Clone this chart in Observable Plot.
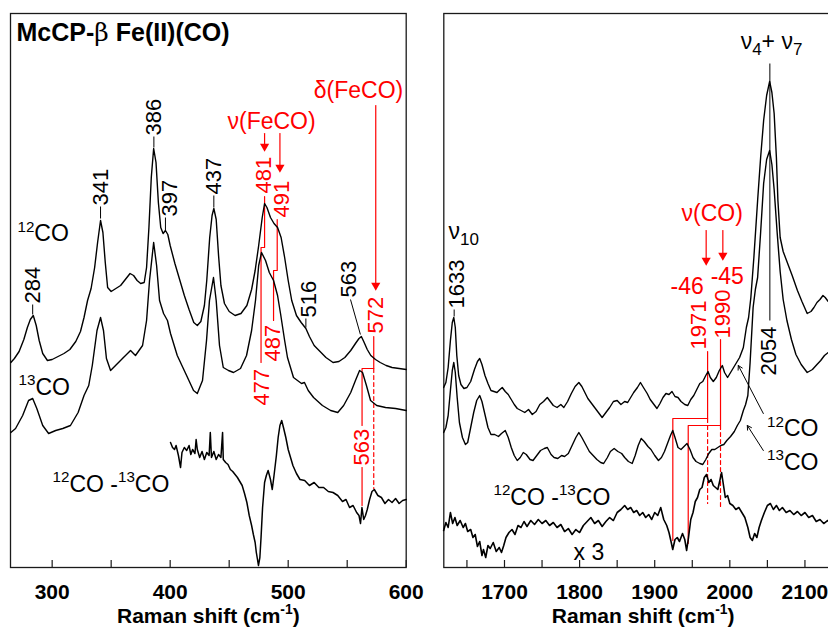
<!DOCTYPE html>
<html><head><meta charset="utf-8">
<script src="https://cdn.jsdelivr.net/npm/d3@7"></script>
<script src="https://cdn.jsdelivr.net/npm/@observablehq/plot@0.6"></script>
<style>
html,body{margin:0;padding:0;background:#fff;overflow:hidden}
#fig{position:relative;width:828px;height:633px;overflow:hidden;background:#fff}
</style></head><body><div id="fig"></div>
<script>
// ---------------- DATA (Raman shift cm-1, relative intensity) ----------------
const lowTickLabels = [300, 400, 500, 600];
const lowTicks = [300, 350, 400, 450, 500, 550, 600];
const highTickLabels = [1700, 1800, 1900, 2000, 2100];
const highTicks = [1650, 1700, 1750, 1800, 1850, 1900, 1950, 2000, 2050, 2100, 2150];

const low12CO = [[265,205],[268,209],[272,216],[276,228],[279,240],[281.5,248],[284,252],[286.5,242],[289,227],[292,214],[296,207],[300,208],[305,211],[310,214],[315,218],[320,226],[324,236],[327,250],[330,267],[333,279],[336,300],[338.5,325],[341,347],[343,335],[345,305],[347,280],[350,276],[354,279],[358,282],[362,288],[366,294],[369,292],[372,287],[375,284],[378,285],[380,300],[382,340],[384,390],[386,419],[388,405],[390,365],[392,340],[394,334],[396,337],[398,333],[400,322],[404,304],[408,288],[412,272],[416,258],[420,245],[423,242],[426,246],[429,262],[431,287],[433.5,330],[435.5,352],[437,359],[439,348],[441,312],[443,282],[446,264],[450,256],[455,252],[460,254],[465,262],[469,278],[472,297],[475,322],[478,350],[480,364],[482,360],[485,350],[488,344],[491,340],[494,330],[497,310],[500,287],[503,267],[507,252],[511,245],[515,239],[518,231],[522,222],[527,216],[532,210],[538,205],[543,206],[548,210],[553,217],[557,224],[560,229],[562,231],[564,226],[567,218],[570,212],[574,208],[578,205],[583,202],[588,200],[594,199],[600,198]];

const low13CO = [[265,135],[269,139],[275,152],[280,167],[283.5,169],[287,159],[292,142],[297,134],[303,137],[309,139],[315.5,142],[322,155],[327,172],[331,182],[334,202],[338,237],[341,250],[343.5,237],[346,209],[349.5,197],[353.7,202],[359.6,209],[366.4,217],[370.6,212],[376.6,222],[380,247],[382.5,287],[386,325],[388.5,302],[391,267],[394.4,254],[397.7,247],[400.3,234],[406,212],[414.7,190],[419.8,177],[423,174],[427.4,187],[430.8,227],[433.3,267],[436.7,290],[439,267],[441.8,222],[445,200],[449.4,197],[453.7,195],[459.6,199],[464.7,212],[469,237],[472.3,267],[475,302],[477.4,315],[480.8,307],[484,295],[487.6,287],[491,272],[493.5,254],[497,227],[499.4,210],[504.5,190],[511.3,184],[513.8,185],[517,177],[521.5,170],[529,162],[536,157],[542,155],[547,162],[553,175],[557,187],[560.5,197],[563,195],[566.3,182],[569.8,167],[575,162],[582.5,160],[591,159],[600,157]];

const lowDiff = [[400.3,125],[402,120],[403.7,118],[405,122],[407,112],[408.8,100],[410,115],[412,120],[414,117],[416,122],[417.5,113],[419,118],[421,114],[422,128],[423,118],[425,110],[427,116],[429,108],[431,115],[433,112],[434,135],[435,110],[437,116],[439,108],[441,113],[443,110],[444.4,135],[445,108],[447,105],[449,103],[451,98],[453,96],[455,93],[457,90],[459,86],[461,82],[463,74],[465,65],[467,52],[469,42],[470.5,33],[472,25],[473,15],[474,8],[474.8,2],[476,10],[477,30],[478.3,60],[480,85],[481.5,92],[483,97],[485,88],[486.5,78],[488,92],[490,112],[491.5,130],[493,142],[494.5,147],[496,140],[498,130],[500,118],[502,110],[504,102],[507,94],[510,88],[514,87],[518,82],[522,85],[526,80],[530,80],[534,76],[538,75],[542,72],[546,66],[549,68],[552,60],[555,62],[558,55],[560,52],[561.3,44],[562.5,60],[564,48],[565.5,52],[567,58],[569,68],[571,76],[573,78],[576,72],[579,70],[582,64],[585,68],[588,65],[591,69],[594,64],[597,67],[600,68]];

const high12CO = [[1619,180],[1622,185],[1625,200],[1628,227],[1630.5,245],[1632.5,250],[1634.5,240],[1636.5,212],[1639,192],[1642,183],[1646,179],[1650,180],[1655,186],[1660,198],[1664,206],[1667,209],[1670,203],[1674,192],[1678,184],[1682,177],[1686,176],[1690,175],[1694,178],[1697,180],[1701,176],[1705,173],[1709,168],[1713,163],[1717,159],[1722,157],[1727,155],[1732,158],[1737,153],[1742,156],[1747,163],[1752,166],[1757,170],[1761,166],[1765,162],[1770,160],[1775,163],[1779,160],[1784,166],[1789,174],[1794,181],[1799,185],[1803,181],[1807,175],[1811,169],[1815,165],[1820,160],[1825,155],[1830,150],[1835,155],[1840,160],[1845,166],[1850,167],[1855,163],[1860,166],[1864,165],[1868,170],[1872,175],[1877,180],[1881,185],[1885,180],[1890,174],[1894,168],[1898,164],[1903,159],[1907,164],[1911,170],[1915,174],[1919,173],[1923,176],[1927,171],[1931,170],[1935,166],[1940,163],[1944,162],[1948,168],[1952,172],[1956,178],[1960,184],[1964,186],[1968,192],[1971,196],[1974,190],[1978,186],[1982,190],[1986,197],[1990,202],[1993,195],[1997,190],[2001,195],[2005,200],[2009,205],[2013,210],[2018,220],[2022,240],[2025,250],[2028,270],[2032,310],[2037,367],[2041,410],[2045,447],[2049,472],[2053,486],[2056,475],[2059,454],[2062,410],[2064,367],[2067,330],[2071,316],[2077,304],[2083,292],[2090,277],[2096,266],[2103,254],[2108,256],[2112,260],[2116,265],[2120,268],[2124,272],[2127,270],[2131,266],[2136,263],[2142,262],[2148,260]];

const high13CO = [[1619,135],[1622,140],[1625,152],[1628,177],[1630.5,197],[1632.5,205],[1634.5,195],[1637,170],[1640,145],[1644,130],[1648,123],[1651,125],[1655,140],[1659,155],[1663,167],[1667,172],[1670,166],[1674,153],[1678,140],[1682,133],[1687,133],[1692,131],[1696,134],[1701,137],[1705,130],[1709,120],[1713,112],[1717,107],[1721,110],[1725,115],[1729,113],[1734,108],[1738,107],[1743,112],[1748,117],[1753,119],[1757,120],[1762,113],[1766,110],[1771,109],[1776,112],[1780,111],[1785,114],[1790,122],[1795,130],[1799,135],[1803,130],[1808,123],[1813,116],[1818,112],[1823,108],[1828,105],[1832,104],[1837,110],[1841,116],[1846,119],[1851,116],[1856,114],[1860,110],[1865,106],[1870,104],[1874,112],[1878,122],[1882,129],[1886,126],[1891,121],[1895,118],[1900,112],[1905,107],[1909,110],[1913,116],[1917,124],[1921,132],[1924,137],[1927,130],[1931,120],[1935,118],[1939,121],[1943,124],[1947,118],[1951,110],[1955,106],[1960,104],[1964,103],[1968,108],[1972,114],[1976,118],[1980,118],[1984,120],[1988,122],[1992,123],[1996,127],[2001,131],[2006,136],[2010,142],[2014,147],[2018,157],[2021,163],[2024,172],[2027,205],[2031,260],[2034,278],[2037,290],[2041,335],[2045,384],[2049,408],[2053,417],[2056,403],[2059,378],[2063,335],[2067,296],[2071,268],[2076,247],[2082,228],[2088,213],[2095,203],[2103,195],[2110,198],[2116,203],[2121,207],[2126,212],[2131,215],[2138,217],[2148,218]];

const highDiff = [[1619,37],[1622,45],[1625,40],[1628,55],[1631,44],[1634,50],[1637,42],[1641,47],[1645,40],[1648,44],[1651,36],[1655,38],[1658,30],[1661,33],[1664,21],[1667,26],[1670,12],[1672,18],[1675,10],[1678,22],[1681,19],[1685,25],[1689,16],[1693,20],[1696,15],[1699,22],[1702,30],[1706,35],[1710,38],[1714,33],[1718,42],[1722,40],[1726,46],[1730,41],[1735,47],[1740,43],[1745,48],[1750,44],[1755,47],[1760,42],[1765,45],[1770,40],[1775,43],[1780,36],[1785,39],[1790,33],[1795,38],[1800,35],[1805,42],[1810,46],[1815,50],[1820,44],[1825,47],[1830,41],[1835,46],[1840,50],[1845,47],[1850,55],[1855,58],[1860,62],[1864,58],[1868,60],[1872,55],[1876,57],[1880,52],[1884,55],[1888,50],[1892,53],[1896,48],[1900,55],[1904,52],[1908,60],[1912,48],[1916,42],[1919,35],[1922,25],[1924,18],[1927,28],[1930,30],[1933,26],[1937,34],[1940,28],[1942.5,17],[1945,30],[1948,48],[1951,55],[1954,66],[1957,70],[1960,78],[1963,80],[1966,90],[1969,93],[1972,85],[1975,88],[1978,82],[1981,80],[1984,78],[1987,88],[1989,95],[1991,85],[1994,70],[1997,72],[2000,64],[2004,62],[2008,58],[2012,60],[2016,55],[2020,50],[2024,40],[2027,30],[2030,27],[2033,34],[2036,30],[2039,40],[2042,47],[2046,55],[2050,62],[2054,64],[2058,58],[2062,62],[2066,57],[2070,60],[2075,55],[2080,57],[2085,53],[2090,56],[2095,52],[2100,55],[2105,50],[2110,52],[2115,46],[2120,48],[2125,44],[2130,47],[2135,45],[2140,48],[2145,46]];

// ---------------- RENDERING ----------------
const FONT = "'Liberation Sans', Arial, Helvetica, sans-serif";
const RED = "#ff0000";
const FRAME = "#1a1a1a";
const X = d => d[0], Y = d => d[1];

function trace(data, w) { return Plot.line(data, {x: X, y: Y, stroke: "black", strokeWidth: w || 1.4}); }
function poly(pts, color, dash) {
  return Plot.line(pts, {x: X, y: Y, stroke: color, strokeWidth: 1.2, strokeDasharray: dash || null});
}
function vlabels(list, color) {
  return Plot.text(list, {x: "x", y: "y", text: "t", rotate: -90, textAnchor: "start", fontSize: 22, fill: color});
}
function labels(list, opts) {
  return Plot.text(list, Object.assign({x: "x", y: "y", text: "t", fill: "black", fontSize: 23}, opts));
}
function tips(list) {
  return Plot.dot(list, {x: X, y: Y, symbol: "triangle", r: 3.4, rotate: 180, fill: RED, stroke: "none"});
}
function axisMarks(ticks, tickLabels, mid) {
  return [
    Plot.ruleX(ticks, {x: d => d, y1: 0, y2: 7, stroke: FRAME, strokeWidth: 1.2}),
    Plot.text(tickLabels, {x: d => d, y: -24.5, text: d => String(d), fontSize: 21, fontWeight: "bold", fill: "black"}),
    Plot.text(["Raman shift (cm^{-1})"], {x: mid, y: -49, text: d => d, fontSize: 21, fontWeight: "bold", fill: "black"})
  ];
}

const left = Plot.plot({
  width: 440, height: 633,
  marginLeft: 10, marginRight: 34.3, marginTop: 13, marginBottom: 66,
  x: {domain: [264.7, 600], axis: null},
  y: {domain: [0, 554], axis: null},
  style: `position:absolute;left:0;top:0;max-width:none;overflow:visible;background:none;font-family:${FONT}`,
  marks: [
    Plot.frame({stroke: FRAME, strokeWidth: 1.3}),
    ...axisMarks(lowTicks, lowTickLabels, 432.35),
    poly([[480,371],[480,320],[477,320],[477,205]], RED),
    poly([[490.7,348],[490.7,297],[487.6,297],[487.6,247]], RED),
    poly([[572.5,231],[572.5,199],[562.6,199],[562.6,142]], RED),
    poly([[562.6,100],[562.6,62]], RED),
    poly([[572.5,199],[572.5,79]], RED, "4,3"),
    poly([[480,434],[480,423]], RED),
    poly([[493,434],[493,402]], RED),
    poly([[574.2,462],[574.2,284]], RED),
    tips([[480,421],[493,400],[574.2,282]]),
    trace(low12CO), trace(low13CO), trace(lowDiff, 1.5),
    Plot.link([
      {x1:283.5,y1:253,x2:283.5,y2:263},{x1:341,y1:349,x2:341,y2:361},{x1:386.2,y1:420,x2:386.2,y2:431},
      {x1:396,y1:337,x2:396,y2:350},{x1:437,y1:360,x2:437,y2:372},{x1:515,y1:240,x2:515,y2:249},
      {x1:552.8,y1:268,x2:561.2,y2:233}
    ], {x1:"x1", y1:"y1", x2:"x2", y2:"y2", stroke: "black", strokeWidth: 1}),
    vlabels([{t:"284",x:283.4,y:264},{t:"341",x:341,y:362},{t:"386",x:386.4,y:432},{t:"397",x:399.4,y:351},
             {t:"437",x:436.7,y:373},{t:"516",x:517.5,y:250},{t:"563",x:551.5,y:270}], "black"),
    vlabels([{t:"481",x:479.1,y:374},{t:"491",x:494.4,y:350},{t:"477",x:477.4,y:162},{t:"487",x:487.2,y:206},
             {t:"572",x:574.2,y:234},{t:"563",x:562.7,y:102}], RED),
    labels([{t:"ν(FeCO)",x:485.9,y:446},{t:"δ(FeCO)",x:559.6,y:477}], {fill: RED, textAnchor: "middle"}),
    labels([{t:"^{12}CO",x:270.6,y:333.5},{t:"^{13}CO",x:271.5,y:180},{t:"^{12}CO -^{13}CO",x:300.3,y:83}], {textAnchor: "start"}),
    labels([{t:"McCP-β Fe(II)(CO)",x:269.8,y:535}], {textAnchor: "start", fontSize: 25, fontWeight: "bold"})
  ]
});

const right = Plot.plot({
  width: 450, height: 633,
  marginLeft: 33.3, marginRight: 18, marginTop: 13, marginBottom: 66,
  x: {domain: [1619.2, 2150], axis: null},
  y: {domain: [0, 554], axis: null},
  style: `position:absolute;left:410px;top:0;max-width:none;overflow:visible;background:none;font-family:${FONT}`,
  marks: [
    Plot.frame({stroke: FRAME, strokeWidth: 1.3}),
    ...axisMarks(highTicks, highTickLabels, 1884.6),
    poly([[1970.4,216],[1970.4,149],[1924.1,149],[1924.1,27]], RED),
    poly([[1987.6,228],[1987.6,142],[1944.6,142],[1944.6,24]], RED),
    poly([[1970.4,149],[1970.4,64]], RED, "4,3"),
    poly([[1987.6,142],[1987.6,59]], RED, "4,3"),
    poly([[1968.5,337],[1968.5,309]], RED),
    poly([[1990.7,337],[1990.7,314]], RED),
    tips([[1968.5,307],[1990.7,312]]),
    trace(high12CO), trace(high13CO), trace(highDiff, 1.6),
    Plot.link([{x1:1633,y1:251,x2:1633,y2:258},{x1:2053.3,y1:247,x2:2053.3,y2:504}],
      {x1:"x1", y1:"y1", x2:"x2", y2:"y2", stroke: "black", strokeWidth: 1}),
    Plot.arrow([{x1:2044.6,y1:154,x2:2011.3,y2:202},{x1:2044.6,y1:117,x2:2023.3,y2:142}],
      {x1:"x1", y1:"y1", x2:"x2", y2:"y2", stroke: "black", strokeWidth: 1, headLength: 7}),
    vlabels([{t:"1633",x:1637,y:259},{t:"2054",x:2052.6,y:192}], "black"),
    vlabels([{t:"1971",x:1958.6,y:218},{t:"1990",x:1990.5,y:229}], RED),
    labels([{t:"ν(CO)",x:1976.6,y:354},{t:"-46",x:1943.3,y:281},{t:"-45",x:1996.6,y:291}], {fill: RED, textAnchor: "middle"}),
    labels([{t:"ν_{10}",x:1625.4,y:336},{t:"ν_{4}+ ν_{7}",x:2014.4,y:526},{t:"^{12}CO",x:2049.6,y:138.5},
            {t:"^{13}CO",x:2049.6,y:105},{t:"^{12}CO -^{13}CO",x:1685.3,y:70},{t:"x 3",x:1792,y:15}], {textAnchor: "start"})
  ]
});

const fig = document.getElementById("fig");
fig.appendChild(left);
fig.appendChild(right);

function richText(svg) {
  const NS = "http://www.w3.org/2000/svg";
  svg.querySelectorAll("text").forEach(el => {
    const s = el.textContent;
    if (s.indexOf("β") >= 0) {
      el.textContent = "";
      s.split(/(β)/).forEach(part => {
        if (!part) return;
        const ts = document.createElementNS(NS, "tspan");
        if (part === "β") { ts.setAttribute("font-weight", "normal"); ts.setAttribute("font-family", "'DejaVu Serif', 'Liberation Serif', serif"); }
        ts.textContent = part;
        el.appendChild(ts);
      });
      return;
    }
    if (!/[\^_]\{/.test(s)) return;
    const fs = parseFloat(getComputedStyle(el).fontSize);
    const re = /([\^_])\{([^}]*)\}|([^\^_]+)/g;
    el.textContent = "";
    let cur = 0, m;
    while ((m = re.exec(s))) {
      const ts = document.createElementNS(NS, "tspan");
      let target = 0, size = fs, txt = m[3];
      if (m[1] === "^") { target = -0.42 * fs; size = 0.66 * fs; txt = m[2]; }
      else if (m[1] === "_") { target = 0.28 * fs; size = 0.74 * fs; txt = m[2]; }
      const dy = target - cur; cur = target;
      if (dy) ts.setAttribute("dy", dy.toFixed(2));
      ts.setAttribute("font-size", size.toFixed(2));
      ts.textContent = txt;
      el.appendChild(ts);
    }
  });
}
richText(left);
richText(right);
</script>
</body></html>
